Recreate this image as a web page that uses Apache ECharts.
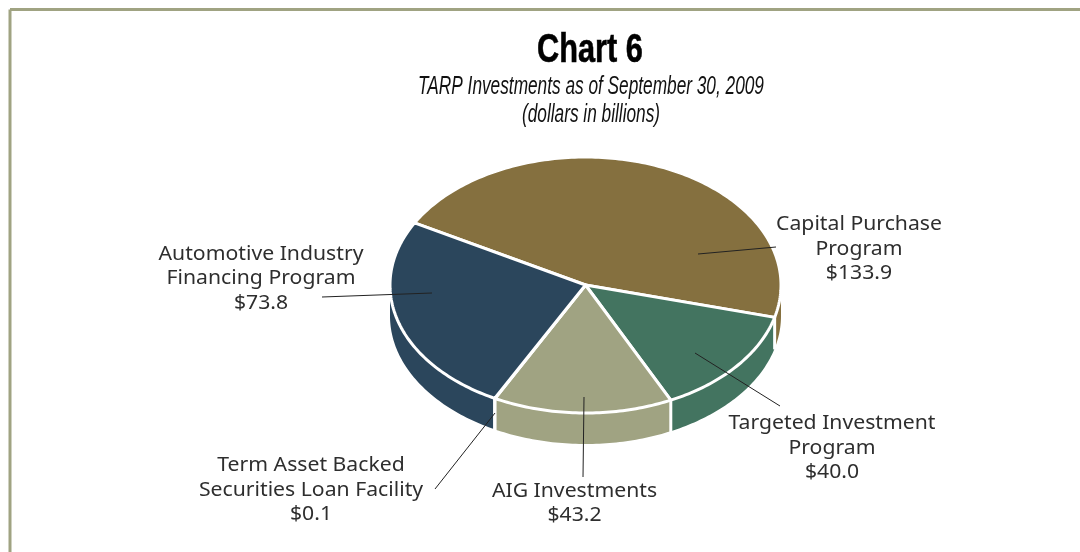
<!DOCTYPE html>
<html>
<head>
<meta charset="utf-8">
<title>Chart 6</title>
<script src="https://cdn.jsdelivr.net/npm/echarts@6/dist/echarts.min.js"></script>
<style>
  html, body { margin: 0; padding: 0; background: #fff; }
  #chart { width: 1080px; height: 552px; }
</style>
</head>
<body>
<div id="chart"></div>
<script>
// slices in clockwise drawing order
const categories = [
  'Capital Purchase\nProgram',
  'Targeted Investment\nProgram',
  'AIG Investments',
  'Term Asset Backed\nSecurities Loan Facility',
  'Automotive Industry\nFinancing Program'
];
const values = [133.9, 40.0, 43.2, 0.1, 73.8];
const colors = ['#85703f', '#437460', '#a0a382', '#a0a382', '#2b465c'];

// disc geometry
const cx = 585.5, cy = 285, rx = 195.5, ry = 128, depth = 31;
const startAngle = -151;

// label centre and leader line [x1, y1, x2, y2] for each slice
const labelPos = [[859, 249], [832, 448], [574.5, 503.5], [311, 490], [261, 278.5]];
const leaders = [
  [698, 254, 776, 247],
  [695, 353, 780, 406],
  [584, 397, 583, 477],
  [495, 413, 435, 489],
  [432, 293, 322, 297]
];

const total = values.reduce((a, b) => a + b, 0);
let acc = startAngle;
const spans = values.map(v => {
  const s = [acc, acc + v / total * 360];
  acc = s[1];
  return s;
});

function pt(deg, dy) {
  const t = deg * Math.PI / 180;
  return [cx + rx * Math.cos(t), cy + ry * Math.sin(t) + (dy || 0)];
}

function arc(a, b, dy) {
  const n = Math.max(1, Math.ceil(Math.abs(b - a)));
  const out = [];
  for (let i = 0; i <= n; i++) out.push(pt(a + (b - a) * i / n, dy));
  return out;
}

function renderWall(params, api) {
  const i = params.dataIndex;
  const a = Math.max(spans[i][0], 0);
  const b = Math.min(spans[i][1], 180);
  if (b <= a) return { type: 'group', children: [] };
  const children = [{
    type: 'polygon',
    shape: { points: arc(a, b, 0).concat(arc(b, a, depth)) },
    style: { fill: colors[i], stroke: null }
  }];
  // white seam where the slice ends on the visible side
  if (b < 180) {
    const p = pt(b, 0), q = pt(b, depth + 1);
    children.push({
      type: 'line',
      shape: { x1: p[0], y1: p[1], x2: q[0], y2: q[1] },
      style: { stroke: '#fff', lineWidth: 3 },
      z2: 5
    });
  }
  return { type: 'group', children };
}

function renderTop(params, api) {
  const i = params.dataIndex;
  return {
    type: 'polygon',
    shape: { points: [[cx, cy]].concat(arc(spans[i][0], spans[i][1], 0)) },
    style: { fill: colors[i], stroke: '#fff', lineWidth: 3, lineJoin: 'round' }
  };
}

function renderLabel(params, api) {
  const i = params.dataIndex;
  const l = leaders[i];
  return {
    type: 'group',
    children: [{
      type: 'line',
      shape: { x1: l[0], y1: l[1], x2: l[2], y2: l[3] },
      style: { stroke: '#222', lineWidth: 1 }
    }, {
      type: 'text',
      x: labelPos[i][0],
      y: labelPos[i][1],
      scaleX: 1.06,
      style: {
        x: 0,
        y: 0,
        text: categories[i] + '\n$' + api.value(0).toFixed(1),
        textAlign: 'center',
        textVerticalAlign: 'middle',
        font: '20px "Noto Sans"',
        lineHeight: 24.5,
        fill: '#2e2e2e'
      }
    }]
  };
}

const chart = echarts.init(document.getElementById('chart'), null, { renderer: 'canvas' });
chart.setOption({
  animation: false,
  backgroundColor: '#fff',
  graphic: [
    { type: 'line', shape: { x1: 10, y1: 9.5, x2: 1080, y2: 9.5 }, style: { stroke: '#a0a382', lineWidth: 3 } },
    { type: 'line', shape: { x1: 10, y1: 9.5, x2: 10, y2: 552 }, style: { stroke: '#a0a382', lineWidth: 3 } },
    // no condensed face is installed, so the title lines are squeezed horizontally
    {
      type: 'text', x: 590, y: 51, scaleX: 0.75,
      style: { x: 0, y: 0, text: 'Chart 6', textAlign: 'center', textVerticalAlign: 'middle', font: 'bold 41px "Liberation Sans"', fill: '#000', stroke: '#000', lineWidth: 0.6 }
    },
    {
      type: 'text', x: 591, y: 87, scaleX: 0.69,
      style: { x: 0, y: 0, text: 'TARP Investments as of September 30, 2009', textAlign: 'center', textVerticalAlign: 'middle', font: 'italic 25px "Liberation Sans"', fill: '#111' }
    },
    {
      type: 'text', x: 591, y: 115, scaleX: 0.69,
      style: { x: 0, y: 0, text: '(dollars in billions)', textAlign: 'center', textVerticalAlign: 'middle', font: 'italic 25px "Liberation Sans"', fill: '#111' }
    }
  ],
  series: [
    { type: 'custom', coordinateSystem: 'none', data: values, renderItem: renderWall, z: 1, silent: true },
    { type: 'custom', coordinateSystem: 'none', data: values, renderItem: renderTop, z: 2, silent: true },
    { type: 'custom', coordinateSystem: 'none', data: values, renderItem: renderLabel, z: 3, silent: true }
  ]
});
window.addEventListener('resize', () => chart.resize());
</script>
</body>
</html>
